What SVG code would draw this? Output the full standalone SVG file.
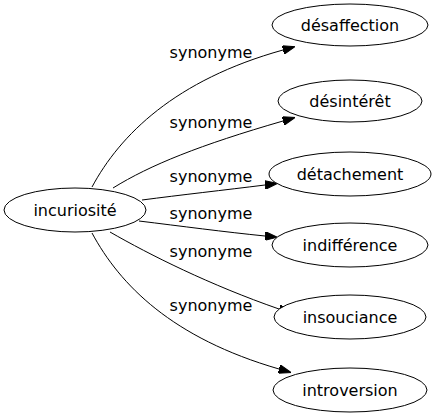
<svg xmlns="http://www.w3.org/2000/svg" width="437" height="419" viewBox="0 0 437 419">
<style>
.bg{fill:#ffffff}
.node ellipse{fill:#ffffff;stroke:#000000;stroke-width:1}
.node text,.lbl{font-family:"DejaVu Sans",sans-serif;font-size:16px;fill:#000000;text-anchor:middle}
.edge{fill:none;stroke:#000000;stroke-width:1;marker-end:url(#arr)}
</style>
<defs>
<marker id="arr" viewBox="0 0 12.5 8.8" refX="0" refY="4.4" markerWidth="12.5" markerHeight="8.8" markerUnits="userSpaceOnUse" orient="auto">
<path d="M0,0 L12.5,4.4 L0,8.8 Z" fill="#000000" stroke="#000000" stroke-width="1"/>
</marker>
</defs>
<rect class="bg" x="0" y="0" width="437" height="419"/>
<g id="edges">
<path class="edge" d="M92,187 C120,135 175,80 283,50"/>
<path class="edge" d="M113,188 C150,165 200,145 283,121"/>
<path class="edge" d="M142,200 C180,195 225,190 265,185"/>
<path class="edge" d="M139,221 C180,226 225,232 265,236"/>
<path class="edge" d="M110,232 C150,255 210,285 279,309"/>
<path class="edge" d="M92,233 C120,285 172,338 279,369"/>
<text class="lbl" x="211" y="58">synonyme</text>
<text class="lbl" x="211" y="128">synonyme</text>
<text class="lbl" x="211" y="182">synonyme</text>
<text class="lbl" x="211" y="219">synonyme</text>
<text class="lbl" x="211" y="257">synonyme</text>
<text class="lbl" x="211" y="311">synonyme</text>
</g>
<g id="n0" class="node"><ellipse cx="75" cy="210" rx="71" ry="22"/><text x="75" y="215.5">incuriosité</text></g>
<g id="n1" class="node"><ellipse cx="350" cy="25" rx="78" ry="21"/><text x="350" y="30.5">désaffection</text></g>
<g id="n2" class="node"><ellipse cx="350" cy="101" rx="72" ry="21"/><text x="350" y="106.5">désintérêt</text></g>
<g id="n3" class="node"><ellipse cx="350" cy="174" rx="81" ry="22"/><text x="350" y="179.5">détachement</text></g>
<g id="n4" class="node"><ellipse cx="350" cy="245" rx="78" ry="22"/><text x="350" y="250.5">indifférence</text></g>
<g id="n5" class="node"><ellipse cx="350" cy="317" rx="76" ry="22"/><text x="350" y="322.5">insouciance</text></g>
<g id="n6" class="node"><ellipse cx="350" cy="390" rx="77" ry="22"/><text x="350" y="395.5">introversion</text></g>
</svg>
